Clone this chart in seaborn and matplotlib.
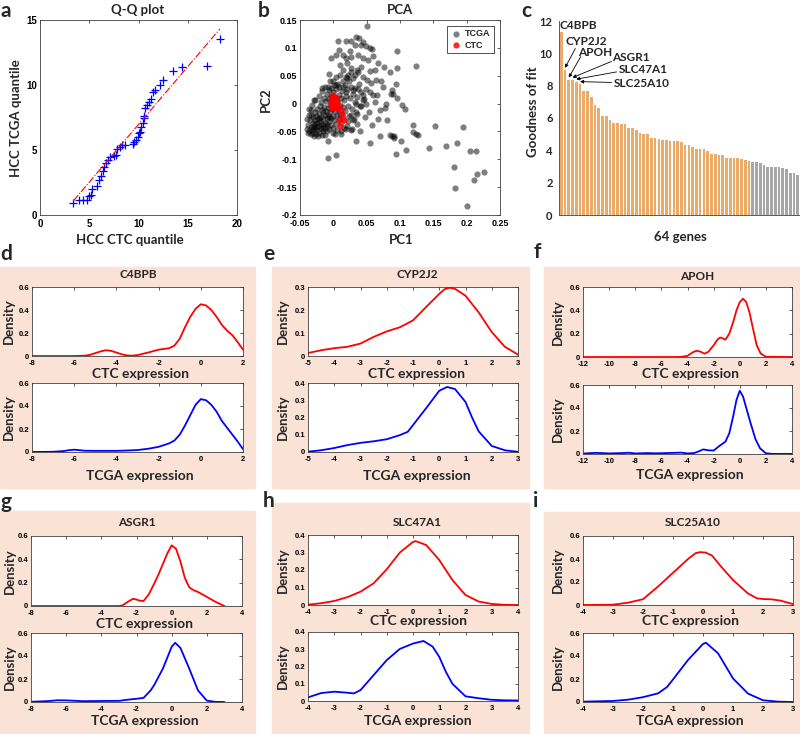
import numpy as np
import pandas as pd
import matplotlib
matplotlib.use("Agg")
import matplotlib.pyplot as plt
import seaborn as sns
from matplotlib.patches import Rectangle
from matplotlib.ticker import FuncFormatter

# ---------------- data ----------------
# a: Q-Q plot
qq_ctc = [3.4, 4.0, 4.4, 4.75, 5.0, 5.2, 5.3, 5.8, 6.0, 6.15, 6.35, 6.45, 6.65, 6.9, 7.15,
          7.5, 7.7, 7.8, 8.1, 8.35, 8.6, 9.4, 9.55, 9.7, 9.9, 10.05, 10.2, 10.3, 10.45,
          10.55, 10.6, 10.7, 10.9, 11.1, 11.3, 11.5, 11.7, 12.2, 12.5, 13.5, 14.4, 17.0, 18.3]
qq_tcga = [0.9, 1.15, 1.15, 1.15, 1.45, 1.55, 2.0, 2.2, 2.7, 3.0, 3.35, 3.7, 4.0, 4.2, 4.5,
           4.55, 4.6, 5.1, 5.25, 5.4, 5.35, 5.45, 5.65, 5.8, 6.0, 6.3, 6.4, 6.8, 7.05,
           7.45, 7.6, 8.2, 8.45, 8.7, 8.9, 9.5, 9.65, 10.0, 10.4, 11.1, 11.35, 11.5, 13.55]
qq_line_x = [3.4, 18.25]
qq_line_y = [1.1, 14.3]

# b: PCA
core_pc1 = [
    -0.040, -0.038, -0.036, -0.035, -0.034, -0.033, -0.032, -0.031, -0.030, -0.030,
    -0.029, -0.028, -0.028, -0.027, -0.026, -0.026, -0.025, -0.024, -0.024, -0.023,
    -0.022, -0.022, -0.021, -0.020, -0.020, -0.019, -0.018, -0.018, -0.017, -0.016,
    -0.016, -0.015, -0.014, -0.014, -0.013, -0.013, -0.012, -0.011, -0.011, -0.010,
    -0.010, -0.009, -0.009, -0.008, -0.008, -0.007, -0.007, -0.006, -0.006, -0.005,
    -0.005, -0.004, -0.004, -0.003, -0.003, -0.002, -0.002, -0.001, 0.000, 0.000,
    0.001, 0.002, 0.002, 0.003, 0.004, 0.004, 0.005, 0.006, 0.006, 0.007,
    0.008, 0.008, 0.009, 0.010, 0.010, 0.011, 0.012, 0.013, 0.014, 0.015,
    0.016, 0.017, 0.018, 0.019, 0.020, 0.021, 0.022, 0.023, 0.024, 0.025,
    0.026, 0.028, 0.029, 0.030, 0.032, 0.033, 0.035, 0.036, 0.038, 0.040,
    0.042, 0.045,
    -0.036, -0.032, -0.027, -0.021, -0.017, -0.012, -0.039, -0.037, -0.034, -0.029,
    -0.023, -0.017, -0.012, -0.038, -0.031, -0.025, -0.019, -0.015, -0.027, -0.033,
    -0.021, -0.016, -0.010, -0.006, -0.001, 0.003, 0.012, 0.016, 0.022, 0.026,
    0.030, 0.014, 0.007, 0.001, -0.005, 0.019, 0.010, 0.027, 0.035]
core_pc2 = [
    -0.045, -0.038, -0.050, -0.030, -0.042, -0.020, -0.048, -0.035, -0.025, -0.052,
    -0.040, -0.015, -0.030, -0.045, -0.055, -0.022, -0.035, -0.010, -0.048, -0.028,
    -0.040, -0.018, -0.052, -0.005, -0.032, -0.044, -0.024, 0.002, -0.012, -0.038,
    -0.050, -0.028, -0.006, 0.010, -0.020, -0.044, -0.034, 0.004, -0.014, -0.050,
    -0.026, 0.018, -0.040, -0.008, -0.020, 0.008, -0.032, -0.046, 0.024, -0.002,
    -0.016, -0.026, 0.014, -0.038, 0.028, -0.010, 0.006, -0.022, -0.044, 0.020,
    -0.030, -0.014, 0.012, -0.004, -0.036, 0.026, -0.020, 0.004, -0.048, -0.010,
    0.016, -0.028, 0.030, -0.002, -0.018, 0.010, -0.034, 0.022, -0.006, -0.024,
    0.006, 0.034, -0.014, 0.014, -0.040, 0.026, -0.004, 0.040, -0.022, 0.010,
    0.030, -0.010, 0.018, 0.046, 0.002, 0.028, -0.018, 0.012, 0.036, -0.004,
    0.020, 0.006,
    -0.010, -0.002, 0.006, 0.014, 0.022, 0.030, -0.028, -0.020, -0.054, -0.058,
    -0.058, -0.056, -0.056, -0.052, -0.044, -0.042, -0.036, -0.046, -0.036, -0.012,
    -0.026, -0.016, -0.036, -0.024, -0.052, -0.054, -0.050, -0.044, -0.032, -0.048,
    -0.030, 0.040, 0.036, 0.034, 0.040, 0.048, 0.052, 0.056, 0.060]
outer_pc1 = [
    0.051, 0.0065, 0.019, 0.0265, 0.034, 0.039, 0.033, 0.0415, 0.0485, 0.0545,
    0.0585, 0.06, 0.009, -0.0035, 0.0045, 0.0145, 0.0195, 0.027, 0.037, 0.0445,
    0.052, 0.067, 0.0755, -0.006, 0.004, 0.014, 0.0215, 0.027, 0.032, 0.037,
    0.0445, 0.0505, 0.057, 0.0645, 0.072, 0.087, -0.017, -0.0085, 0.004, 0.014,
    0.019, 0.029, 0.037, 0.0445, 0.06, 0.0655, 0.0485, 0.034, -0.0285, 0.046,
    0.0785, 0.0775, 0.0535, 0.0335, 0.026, 0.031, 0.036, 0.0665, 0.0575, 0.0195,
    0.034, -0.0085, 0.0555, 0.004, -0.0085, 0.07, 0.0855, 0.0915,
    0.096, 0.096, 0.124, 0.094, 0.0875, 0.09, 0.096, 0.1025, 0.1075, 0.085,
    0.119, 0.12, 0.124, 0.1265, 0.1525, 0.195, 0.0875, 0.091, 0.101, 0.109,
    0.094, 0.144, 0.169, 0.185, 0.205, 0.214, 0.1815, 0.211, 0.215, 0.226,
    0.183, 0.2,
    0.045, 0.025, 0.01, 0.02, 0.041, 0.055, 0.062, 0.049, 0.055, 0.042,
    0.02, 0.0, 0.028, 0.04, 0.011, 0.047, 0.062, 0.07, 0.075, 0.08]
outer_pc2 = [
    0.139, 0.113, 0.113, 0.112, 0.12, 0.117, 0.105, 0.105, 0.104, 0.1,
    0.098, 0.086, 0.096, 0.082, 0.087, 0.088, 0.081, 0.084, 0.087, 0.081,
    0.078, 0.072, 0.066, 0.0525, 0.048, 0.06, 0.051, 0.063, 0.052, 0.057,
    0.048, 0.043, 0.037, 0.043, 0.04, 0.017, 0.0285, 0.03, 0.0325, 0.03,
    0.021, 0.024, 0.027, 0.015, 0.015, 0.015, 0.0, 0.0, 0.006, 0.009,
    0.0, -0.008, -0.015, -0.015, -0.021, -0.027, -0.036, -0.027, -0.039, -0.045,
    -0.068, -0.068, -0.071, -0.093, -0.097, -0.058, -0.057, -0.059,
    0.094, 0.0645, 0.068, 0.0345, 0.0245, 0.017, 0.01, -0.0025, -0.0095, 0.056,
    -0.0385, -0.0505, -0.054, -0.0565, -0.0395, -0.042, -0.0585, -0.061, -0.068, -0.083,
    -0.091, -0.08, -0.076, -0.0715, -0.085, -0.085, -0.113, -0.137, -0.127, -0.122,
    -0.152, -0.183,
    0.11, 0.095, 0.07, 0.072, 0.066, 0.058, 0.06, 0.027, 0.02, -0.005,
    0.045, 0.04, -0.045, -0.05, -0.055, -0.025, 0.002, -0.012, 0.03, -0.03]
ctc_pc1 = [-0.004, -0.002, 0.0, 0.002, -0.001, 0.003, 0.005, 0.001, -0.003, 0.006,
           0.004, 0.008, 0.0, 0.011, 0.013, 0.009, 0.016, 0.010, 0.002, -0.002]
ctc_pc2 = [0.004, 0.012, 0.016, 0.008, 0.0, -0.003, 0.005, -0.006, -0.002, -0.008,
           0.010, -0.004, 0.006, -0.012, -0.019, -0.029, -0.029, -0.040, 0.002, -0.008]
pc1_ticks = [-0.05, 0, 0.05, 0.1, 0.15, 0.2, 0.25]
pc2_ticks = [-0.2, -0.15, -0.1, -0.05, 0, 0.05, 0.1, 0.15]

# c: goodness of fit for 64 genes (first 51 kept)
fit_kept = [11.3, 8.95, 8.35, 8.35, 8.25, 8.1, 7.65, 7.65, 7.3, 6.8, 6.6, 6.15, 6.15, 5.9,
            5.7, 5.7, 5.6, 5.6, 5.4, 5.4, 5.25, 5.1, 5.0, 5.0, 4.75, 4.75, 4.7, 4.65, 4.65,
            4.55, 4.55, 4.55, 4.5, 4.3, 4.3, 4.2, 4.1, 4.1, 4.1, 3.95, 3.75, 3.75, 3.7, 3.7,
            3.55, 3.55, 3.55, 3.5, 3.45, 3.4, 3.35]
fit_rest = [3.3, 3.3, 3.2, 3.1, 2.95, 2.95, 2.95, 2.95, 2.9, 2.85, 2.6, 2.6, 2.5]
marked_genes = ["CYP2J2", "APOH", "ASGR1", "SLC47A1", "SLC25A10"]

# d-i: density curves (x, density)
c4bpb_ctc_x = [-8, -6, -5.5, -5.25, -5.0, -4.75, -4.5, -4.25, -4.0, -3.75, -3.5, -3.25, -3.0, -2.5,
               -2.0, -1.5, -1.25, -1.0, -0.75, -0.5, -0.25, 0, 0.25, 0.5, 0.75, 1.0, 1.25, 1.5, 1.75, 2.0]
c4bpb_ctc_y = [0, 0, 0.003, 0.01, 0.025, 0.04, 0.05, 0.045, 0.03, 0.015, 0.005, 0.003, 0.008, 0.03,
               0.055, 0.068, 0.09, 0.15, 0.25, 0.34, 0.41, 0.45, 0.44, 0.4, 0.34, 0.27, 0.22, 0.18, 0.12, 0.055]
c4bpb_tcga_x = [-8, -7, -6.5, -6.25, -6.0, -5.75, -5.5, -5, -4.5, -4, -3.5, -3, -2.5, -2, -1.5, -1.25,
                -1, -0.75, -0.5, -0.25, 0, 0.25, 0.5, 0.75, 1, 1.25, 1.5, 1.75, 2]
c4bpb_tcga_y = [0, 0.002, 0.008, 0.016, 0.02, 0.016, 0.011, 0.01, 0.01, 0.01, 0.013, 0.017, 0.028, 0.045,
                0.075, 0.1, 0.15, 0.23, 0.32, 0.41, 0.46, 0.45, 0.41, 0.35, 0.27, 0.21, 0.15, 0.09, 0.025]

cyp2j2_ctc_x = [-5, -4.5, -4, -3.5, -3, -2.5, -2, -1.5, -1, -0.5, 0, 0.2, 0.4, 0.6, 1, 1.5, 2, 2.5, 3]
cyp2j2_ctc_y = [0.013, 0.025, 0.034, 0.04, 0.054, 0.083, 0.107, 0.125, 0.155, 0.213, 0.27, 0.29, 0.297,
                0.292, 0.262, 0.19, 0.104, 0.04, 0.006]
cyp2j2_tcga_x = [-5, -4.5, -4, -3.5, -3, -2.5, -2, -1.5, -1.2, -1, -0.5, 0, 0.3, 0.6, 1, 1.25, 1.5, 2, 2.5, 3]
cyp2j2_tcga_y = [0.002, 0.01, 0.023, 0.04, 0.053, 0.062, 0.074, 0.098, 0.117, 0.156, 0.254, 0.355, 0.377,
                 0.365, 0.29, 0.2, 0.12, 0.035, 0.01, 0.001]

apoh_ctc_x = [-12, -5, -4.5, -4, -3.6, -3.3, -3.0, -2.7, -2.4, -2.0, -1.7, -1.5, -1.3, -1.1, -0.8, -0.5,
              -0.25, 0, 0.25, 0.5, 0.75, 1.0, 1.3, 1.6, 2.0, 4]
apoh_ctc_y = [0, 0, 0.001, 0.01, 0.04, 0.054, 0.045, 0.028, 0.045, 0.1, 0.15, 0.167, 0.16, 0.148, 0.2, 0.3,
              0.4, 0.47, 0.5, 0.47, 0.38, 0.25, 0.1, 0.03, 0.002, 0]
apoh_tcga_x = [-12, -11, -10, -9, -8.5, -8, -7, -6.5, -6, -5, -4.5, -4, -3.5, -3.2, -2.8, -2.4, -2.0, -1.5,
               -1.1, -0.8, -0.5, -0.25, 0, 0.25, 0.5, 0.8, 1.2, 1.55, 2.0, 2.5, 4]
apoh_tcga_y = [0.004, 0.01, 0.005, 0.008, 0.011, 0.005, 0.008, 0.006, 0.007, 0.01, 0.012, 0.005, 0.008, 0.02,
               0.04, 0.032, 0.03, 0.075, 0.107, 0.18, 0.33, 0.47, 0.55, 0.5, 0.4, 0.28, 0.13, 0.05, 0.006,
               0.001, 0.001]

asgr1_ctc_x = [-8, -3.0, -2.8, -2.5, -2.2, -2.0, -1.8, -1.6, -1.3, -1.0, -0.75, -0.5, -0.25, 0, 0.25, 0.5,
               0.75, 1.0, 1.25, 1.5, 2.0, 2.5, 3.0]
asgr1_ctc_y = [0, 0, 0.005, 0.035, 0.062, 0.055, 0.045, 0.043, 0.1, 0.19, 0.27, 0.36, 0.45, 0.52, 0.49, 0.38,
               0.24, 0.16, 0.135, 0.12, 0.078, 0.035, 0.0]
asgr1_tcga_x = [-8, -7, -6.5, -6, -5, -4, -3, -2.5, -2, -1.6, -1.2, -1.0, -0.5, 0, 0.2, 0.5, 1.0, 1.5, 2.0,
                2.5, 3.0]
asgr1_tcga_y = [0.002, 0.008, 0.015, 0.014, 0.007, 0.009, 0.01, 0.02, 0.028, 0.036, 0.1, 0.146, 0.29, 0.48,
                0.515, 0.47, 0.29, 0.1, 0.012, 0.001, 0.0]

slc47a1_ctc_x = [-4, -3.5, -3, -2.5, -2, -1.5, -1, -0.5, 0, 0.1, 0.5, 1, 1.5, 2, 2.5, 3, 3.5, 4]
slc47a1_ctc_y = [0.002, 0.01, 0.023, 0.045, 0.076, 0.124, 0.204, 0.3, 0.36, 0.365, 0.343, 0.257, 0.143,
                 0.057, 0.02, 0.006, 0.001, 0.0]
slc47a1_tcga_x = [-4, -3.5, -3, -2.5, -2.25, -2, -1.5, -1, -0.5, 0, 0.4, 0.75, 1, 1.25, 1.5, 2, 2.5, 3, 3.5, 4]
slc47a1_tcga_y = [0.021, 0.046, 0.054, 0.048, 0.044, 0.063, 0.15, 0.237, 0.302, 0.333, 0.348, 0.315, 0.256,
                  0.17, 0.1, 0.027, 0.016, 0.007, 0.004, 0.003]

slc25a10_ctc_x = [-4, -3, -2.5, -2, -1.5, -1, -0.5, -0.25, -0.1, 0.1, 0.3, 0.6, 1, 1.5, 1.8, 2.0, 2.3, 2.6, 3]
slc25a10_ctc_y = [0, 0.003, 0.02, 0.05, 0.16, 0.28, 0.4, 0.45, 0.46, 0.455, 0.43, 0.335, 0.217, 0.1, 0.058,
                  0.052, 0.049, 0.037, 0.008]
slc25a10_tcga_x = [-4, -3.5, -3, -2.5, -2, -1.5, -1.2, -1, -0.5, 0, 0.1, 0.5, 1, 1.5, 2, 2.5, 3]
slc25a10_tcga_y = [0.003, 0.006, 0.009, 0.02, 0.042, 0.075, 0.13, 0.196, 0.365, 0.505, 0.515, 0.424, 0.205,
                   0.073, 0.015, 0.003, 0.0]

# ---------------- style ----------------
sns.set_style("white")
plt.rcParams['font.family'] = ['Liberation Sans', 'DejaVu Sans']
plt.rcParams['font.weight'] = 'bold'
LABEL_FONT = ['Lato', 'DejaVu Sans']
BG = '#FAE3D6'
ORANGE = '#FFAA55'
GREY = '#A6A6A6'

W, H = 800, 734
fig = plt.figure(figsize=(8, 7.34), dpi=100)


def rect(l, t, r, b):
    return [l / W, 1 - b / H, (r - l) / W, (b - t) / H]


def label(x, y, s, size=9.5, rot=0):
    fig.text(x / W, 1 - y / H, s, ha='center', va='center', fontsize=size, rotation=rot,
             fontweight='bold', family=LABEL_FONT)


fmt = FuncFormatter(lambda v, p: f"{v:g}")


def matlab_axes(ax, size=5.5):
    for s in ax.spines.values():
        s.set_visible(True)
        s.set_color('#404040')
        s.set_linewidth(0.6)
    ax.tick_params(direction='in', top=True, right=True, length=2.5, width=0.6,
                   labelsize=size, pad=1.5, color='#404040', labelcolor='black')
    ax.tick_params(axis='x', pad=2.8)
    ax.tick_params(axis='y', pad=2.2)
    ax.xaxis.set_major_formatter(fmt)
    ax.yaxis.set_major_formatter(fmt)
    ax.set_xlabel('')
    ax.set_ylabel('')


# peach panel backgrounds
for l, t, r, b in [(0, 267, 255, 488), (272, 267, 529, 488), (544, 267, 800, 488),
                   (0, 511, 255, 734), (272, 503, 529, 734), (544, 512, 800, 734)]:
    fig.patches.append(Rectangle((l / W, 1 - b / H), (r - l) / W, (b - t) / H,
                                 transform=fig.transFigure, color=BG, zorder=-1))

# ---------------- a: Q-Q plot ----------------
ax = fig.add_axes(rect(40, 20, 237, 215))
sns.lineplot(x=qq_line_x, y=qq_line_y, color='red', linestyle='-.', lw=0.8, ax=ax)
sns.scatterplot(x=qq_ctc, y=qq_tcga, marker='+', color='blue', s=28, linewidth=0.9, ax=ax)
ax.set_xlim(0, 20)
ax.set_ylim(0, 15)
ax.set_xticks([0, 5, 10, 15, 20])
ax.set_yticks([0, 5, 10, 15])
matlab_axes(ax, 7)
label(138, 10, 'Q-Q plot', 9.5)
label(130, 240, 'HCC CTC quantile', 9.5)
label(16, 118, 'HCC TCGA quantile', 9.5, 90)

# ---------------- b: PCA ----------------
ax = fig.add_axes(rect(300, 20, 500, 215))
sns.scatterplot(x=core_pc1 + outer_pc1, y=core_pc2 + outer_pc2, color='black', alpha=0.5,
                s=20, linewidth=0, label='TCGA', ax=ax)
sns.scatterplot(x=ctc_pc1, y=ctc_pc2, color='red', alpha=0.85, s=20, linewidth=0,
                label='CTC', ax=ax)
ax.set_xlim(-0.05, 0.25)
ax.set_ylim(-0.2, 0.15)
ax.set_xticks(pc1_ticks)
ax.set_yticks(pc2_ticks)
matlab_axes(ax, 6.5)
leg = ax.legend(loc='upper right', fontsize=6.5, frameon=True, fancybox=False, edgecolor='black',
                borderpad=0.35, labelspacing=0.25, handletextpad=0.4, handlelength=1.3,
                borderaxespad=0.7)
leg.get_frame().set_linewidth(0.6)
label(400, 10, 'PCA', 9.5)
label(401, 240, 'PC1', 9.5)
label(266, 100, 'PC2', 9.5, 90)

# ---------------- c: goodness of fit ----------------
ax = fig.add_axes(rect(559, 21, 800, 215))
fits = fit_kept + fit_rest
df_c = pd.DataFrame({'gene': [f"g{i}" for i in range(1, len(fits) + 1)],
                     'fit': fits,
                     'group': ['kept'] * len(fit_kept) + ['rest'] * len(fit_rest)})
sns.barplot(data=df_c, x='gene', y='fit', hue='group', palette={'kept': ORANGE, 'rest': GREY},
            width=0.72, dodge=False, legend=False, errorbar=None, linewidth=0, ax=ax)
ax.set_xlim(-0.6, len(fits) - 0.4)
ax.set_ylim(0, 12)
ax.set_yticks(range(0, 13, 2))
ax.set_xticklabels([])
ax.set_xlabel('')
ax.set_ylabel('')
for s in ['top', 'right']:
    ax.spines[s].set_visible(False)
for s in ['left', 'bottom']:
    ax.spines[s].set_color('#595959')
    ax.spines[s].set_linewidth(0.7)
ax.tick_params(axis='both', direction='out', length=2.5, width=0.6, color='#595959')
ax.tick_params(axis='y', labelsize=8, pad=2)
for t in ax.get_yticklabels():
    t.set_family(LABEL_FONT)
ax.text(-0.4, 11.75, 'C4BPB', fontsize=8.5, family=LABEL_FONT, va='center', ha='left')
text_pos = [(1.1, 10.72), (4.6, 10.04), (13.5, 9.75), (15.25, 9.0), (13.9, 8.15)]
tails = [(3.75, 10.3), (5.2, 9.8), (13.4, 9.5), (14.7, 8.85), (13.4, 8.2)]
for i, (name, tp, tl) in enumerate(zip(marked_genes, text_pos, tails), start=1):
    ax.text(tp[0], tp[1], name, fontsize=8.5, family=LABEL_FONT, va='center', ha='left')
    ax.annotate('', xy=(i, fits[i] + 0.15), xytext=tl,
                arrowprops=dict(arrowstyle='-|>', lw=0.6, color='black', mutation_scale=5,
                                shrinkA=0, shrinkB=0))
label(533, 112, 'Goodness of fit', 9.5, 90)
label(680, 237, '64 genes', 9.5)

# ---------------- d-i: density panels ----------------
panels = [
    # name, top axes, bottom axes, ctc, tcga, xlim, xticks, ymax ctc/tcga, title pos, ylabel x, xlabel x, xlabel ys
    ('C4BPB', (32, 287, 243, 356), (32, 383, 243, 452), (c4bpb_ctc_x, c4bpb_ctc_y),
     (c4bpb_tcga_x, c4bpb_tcga_y), (-8, 2), range(-8, 3, 2), 0.6, 0.6, (138, 275), 9, 140, (374, 476)),
    ('CYP2J2', (308, 287, 518, 356), (308, 383, 518, 452), (cyp2j2_ctc_x, cyp2j2_ctc_y),
     (cyp2j2_tcga_x, cyp2j2_tcga_y), (-5, 3), range(-5, 4), 0.3, 0.4, (417, 275), 283, 417, (374, 476)),
    ('APOH', (583, 287, 792, 357), (583, 385, 792, 454), (apoh_ctc_x, apoh_ctc_y),
     (apoh_tcga_x, apoh_tcga_y), (-12, 4), range(-12, 5, 2), 0.6, 0.6, (697, 276), 558, 690, (374, 475)),
    ('ASGR1', (31, 536, 242, 606), (31, 633, 242, 702), (asgr1_ctc_x, asgr1_ctc_y),
     (asgr1_tcga_x, asgr1_tcga_y), (-8, 4), range(-8, 5, 2), 0.6, 0.6, (137, 523), 10, 145, (624, 721)),
    ('SLC47A1', (308, 535, 518, 605), (308, 632, 518, 701), (slc47a1_ctc_x, slc47a1_ctc_y),
     (slc47a1_tcga_x, slc47a1_tcga_y), (-4, 4), range(-4, 5), 0.4, 0.4, (417, 522), 283, 418, (621, 721)),
    ('SLC25A10', (583, 536, 793, 605), (583, 633, 793, 702), (slc25a10_ctc_x, slc25a10_ctc_y),
     (slc25a10_tcga_x, slc25a10_tcga_y), (-4, 3), range(-4, 4), 0.6, 0.6, (693, 522), 558, 690, (621, 721)),
]
for name, r_top, r_bot, ctc, tcga, xlim, xt, ymax_c, ymax_t, tpos, ylab_x, xlab_x, xlab_y in panels:
    for r, (xs, ys), col, ymax in [(r_top, ctc, 'red', ymax_c), (r_bot, tcga, 'blue', ymax_t)]:
        ax = fig.add_axes(rect(*r))
        sns.lineplot(x=xs, y=ys, color=col, lw=1.3, sort=False, ax=ax)
        ax.set_xlim(*xlim)
        ax.set_ylim(0, ymax)
        ax.set_xticks(list(xt))
        step = 0.1 if ymax < 0.5 else 0.2
        ax.set_yticks(np.round(np.arange(0, ymax + 1e-9, step), 2))
        matlab_axes(ax, 5.5)
        label(ylab_x, (r[1] + r[3]) / 2, 'Density', 9.5, 90)
    label(tpos[0], tpos[1], name, 8.5)
    label(xlab_x, xlab_y[0], 'CTC expression', 10)
    label(xlab_x, xlab_y[1], 'TCGA expression', 10)

# panel letters
for ch, x, y in [('a', 6, 11), ('b', 264, 11), ('c', 526, 11), ('d', 6, 254), ('e', 269, 254),
                 ('f', 537, 252), ('g', 6, 502), ('h', 269, 501), ('i', 536, 501)]:
    label(x, y, ch, 15)

fig.savefig('out.png', dpi=100)
